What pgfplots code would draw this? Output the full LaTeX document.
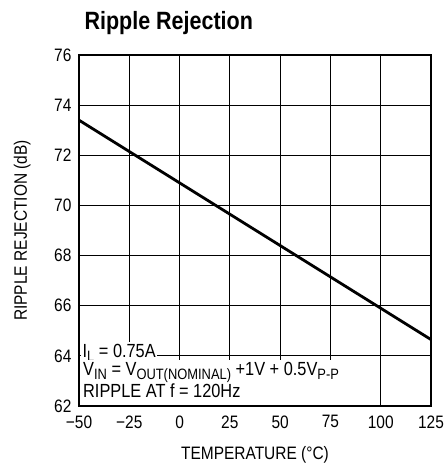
\documentclass[border=0pt]{standalone}
\usepackage{pgfplots}
\pgfplotsset{compat=1.18}
\usepackage{fontspec}
\setmainfont{Liberation Sans}[FakeStretch=0.86]
\newcommand\sub[1]{\raisebox{-0.22em}{\fontsize{15}{15}\selectfont #1}}
\begin{document}
\begin{tikzpicture}
\begin{axis}[
  scale only axis,
  width=352pt, height=351pt,
  xmin=-50, xmax=125, ymin=62, ymax=76,
  xtick={-50,-25,0,25,50,75,100,125},
  xticklabels={−50,−25,0,25,50,75,100,125},
  ytick={62,64,66,68,70,72,74,76},
  yticklabels={62,64,66,68,70,72,74,76},
  grid=major,
  major grid style={black, line width=0.9pt},
  axis line style={black, line width=1.2pt},
  major tick length=0pt,
  tick label style={font=\fontsize{18}{20}\selectfont},
  xticklabel style={yshift=-6pt},
  yticklabel style={xshift=-4pt},
  xlabel={TEMPERATURE (°C)},
  ylabel={RIPPLE REJECTION (dB)},
  every axis x label/.style={at={(axis description cs:0.5,0)}, anchor=base, yshift=-53pt, font=\fontsize{18}{20}\selectfont},
  every axis y label/.style={at={(axis description cs:0,0.5)}, rotate=90, anchor=base, yshift=52pt, font=\fontsize{18}{20}\selectfont},
  title={\bfseries Ripple Rejection},
  every axis title/.style={at={(axis description cs:0,1)}, anchor=base west, xshift=2pt, yshift=25pt, font=\fontsize{25}{28}\selectfont},
  clip=false,
]
\addplot[black, line width=2.8pt] coordinates {(-50,73.4) (125,64.65)};
\node[anchor=base west, fill=white, inner sep=1.5pt, font=\fontsize{19}{20}\selectfont, xshift=2pt] at (axis cs:-50,63.95) {I\sub{L} = 0.75A};
\node[anchor=south west, fill=white, inner sep=2pt, align=left, font=\fontsize{19}{20.5}\selectfont, xshift=2pt, yshift=1pt] at (rel axis cs:0,0)
  {V\sub{IN} = V\sub{OUT(NOMINAL)} +1V + 0.5V\sub{P-P}\\ RIPPLE AT f = 120Hz\rule[-5pt]{0pt}{1pt}};
\draw[black, line width=1.2pt] (rel axis cs:0,0) rectangle (rel axis cs:1,1);
\end{axis}
\pgfresetboundingbox
\path (current axis.south west) ++(-79pt,-60pt) coordinate (bl);
\path (current axis.north east) ++(13pt,55pt) coordinate (tr);
\path[use as bounding box] (bl) rectangle (tr);
\end{tikzpicture}
\end{document}
